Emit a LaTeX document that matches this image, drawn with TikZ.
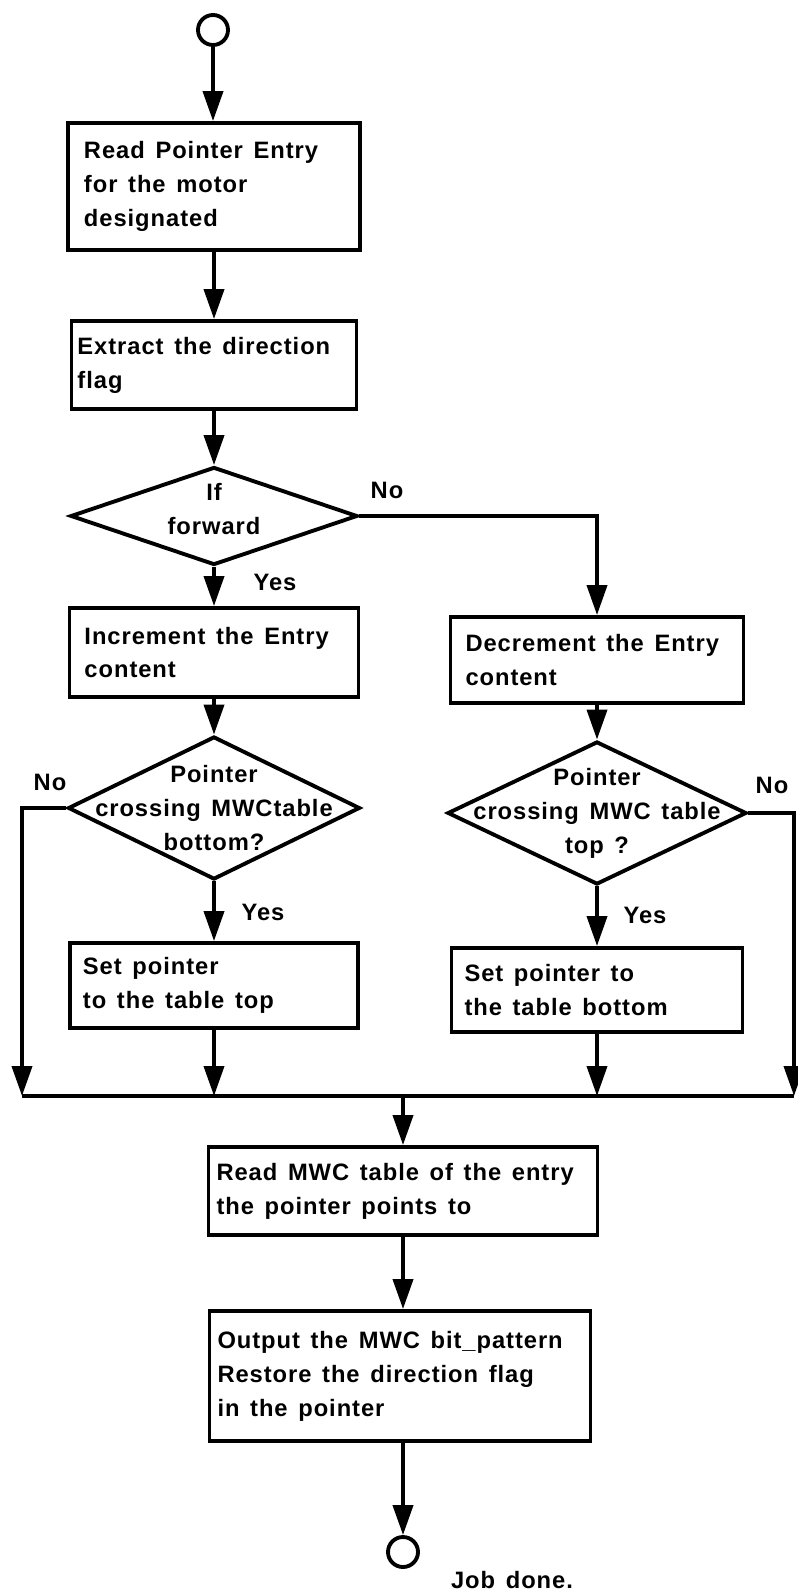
\documentclass[tikz,border=0pt]{standalone}
\usepackage{fontspec}
\setmainfont{Liberation Sans}[LetterSpace=4]
\usetikzlibrary{shapes.geometric,arrows.meta}

\newcommand{\espacio}{\spaceskip=0.45em plus 0.1em minus 0.05em\relax}
\newcommand{\texto}{\fontsize{13.5}{19.3}\selectfont\bfseries\espacio}

\begin{document}
\begin{tikzpicture}[
  x=0.2mm, y=-0.2mm,
  line width=2.2pt,
  caja/.style={draw, rectangle, align=left, inner ysep=0pt, font=\texto,
    execute at begin node=\espacio},
  rombo/.style={draw, diamond, inner sep=0pt},
  rtexto/.style={align=center, font=\texto, inner sep=0pt,
    execute at begin node=\espacio},
  etiqueta/.style={font=\texto, inner sep=0pt},
  terminal/.style={draw, circle, inner sep=0pt, minimum size=6mm},
  flecha/.style={-{Triangle[length=6mm,width=4mm]}}
]

  %–– Columnas y línea de unión ––
  \def\colIzq{214}
  \def\colDer{597}
  \def\colCen{403}
  \def\yUnion{1096}

  \useasboundingbox (0,0) rectangle (797,1596);

  %–– Inicio ––
  \node[terminal] (inicio) at (213,30) {};

  %–– Columna izquierda ––
  \node[caja, inner xsep=3.2mm, text width=52mm, minimum height=25.4mm]
    (leer) at (\colIzq,186.5) {Read Pointer Entry\\for the motor\\designated};
  \node[caja, inner xsep=1.2mm, text width=54.6mm, minimum height=17.6mm]
    (extraer) at (\colIzq,365) {Extract the direction\\flag};
  \node[rombo, minimum width=57.4mm, minimum height=19.6mm]
    (sentido) at (\colIzq,516) {};
  \node[rtexto] (sentidotxt) at ([yshift=1.4mm]sentido.center) {If\\forward};
  \node[caja, inner xsep=3mm, text width=51.8mm, minimum height=17.8mm]
    (incr) at (\colIzq,652.5) {Increment the Entry\\content};
  \node[rombo, minimum width=58.4mm, minimum height=28.6mm]
    (fondo) at (\colIzq,808) {};
  \node[rtexto] (fondotxt) at (fondo.center) {Pointer\\crossing MWCtable\\bottom?};
  \node[caja, inner xsep=2.6mm, text width=52.4mm, minimum height=17mm]
    (ponarriba) at (\colIzq,985.5) {Set pointer\\to the table top};

  %–– Columna derecha ––
  \node[caja, inner xsep=3mm, text width=52.6mm, minimum height=17.2mm]
    (decr) at (\colDer,660) {Decrement the Entry\\content};
  \node[rombo, minimum width=59.8mm, minimum height=28.6mm]
    (cima) at (\colDer,813) {};
  \node[rtexto] (cimatxt) at (cima.center) {Pointer\\crossing MWC table\\top ?};
  \node[caja, inner xsep=2.6mm, text width=53mm, minimum height=16.8mm]
    (ponabajo) at (\colDer,990) {Set pointer to\\the table bottom};

  %–– Parte final ––
  \node[caja, inner xsep=1.6mm, text width=74.6mm, minimum height=17.6mm]
    (leermwc) at (\colCen,1191) {Read MWC table of the entry\\the pointer points to};
  \node[caja, inner xsep=1.6mm, text width=73mm, minimum height=26mm]
    (salida) at (400,1376) {Output the MWC bit\_pattern\\Restore the direction flag\\in the pointer};
  \node[terminal] (fin) at (\colCen,1552) {};

  %–– Puntos de la línea de unión ––
  \coordinate (uIzq) at (22,\yUnion);
  \coordinate (uDer) at (794,\yUnion);
  \coordinate (uCen) at (\colCen,\yUnion);

  %–– Flechas ––
  \draw[flecha] (inicio) -- (inicio |- leer.north);
  \draw[flecha] (leer) -- (extraer);
  \draw[flecha] (extraer) -- (sentido);
  \draw[flecha] (sentido) -- (incr);
  \draw[flecha] (sentido.east) -| (decr);
  \draw[flecha] (incr) -- (fondo);
  \draw[flecha] (decr) -- (cima);
  \draw[flecha] (fondo) -- (ponarriba);
  \draw[flecha] (cima) -- (ponabajo);
  \draw[flecha] (fondo.west) -| (uIzq);
  \draw[flecha] (cima.east) -| (uDer);
  \draw[flecha] (ponarriba) -- (ponarriba |- uIzq);
  \draw[flecha] (ponabajo) -- (ponabajo |- uIzq);
  \draw (uIzq) -- (uDer);
  \draw[flecha] (uCen) -- (leermwc);
  \draw[flecha] (leermwc) -- (leermwc |- salida.north);
  \draw[flecha] (salida.south -| fin) -- (fin);

  %–– Etiquetas ––
  \foreach \nom/\x/\y/\txt in {
    no1/387/490/No,
    si1/275/582/Yes,
    no2/50/782/No,
    si2/263/912/Yes,
    si3/645/915/Yes,
    no3/772/785/No,
    hecho/512/1580/Job done.
  }{
    \node[etiqueta] (\nom) at (\x,\y) {\txt};
  }

\end{tikzpicture}
\end{document}
